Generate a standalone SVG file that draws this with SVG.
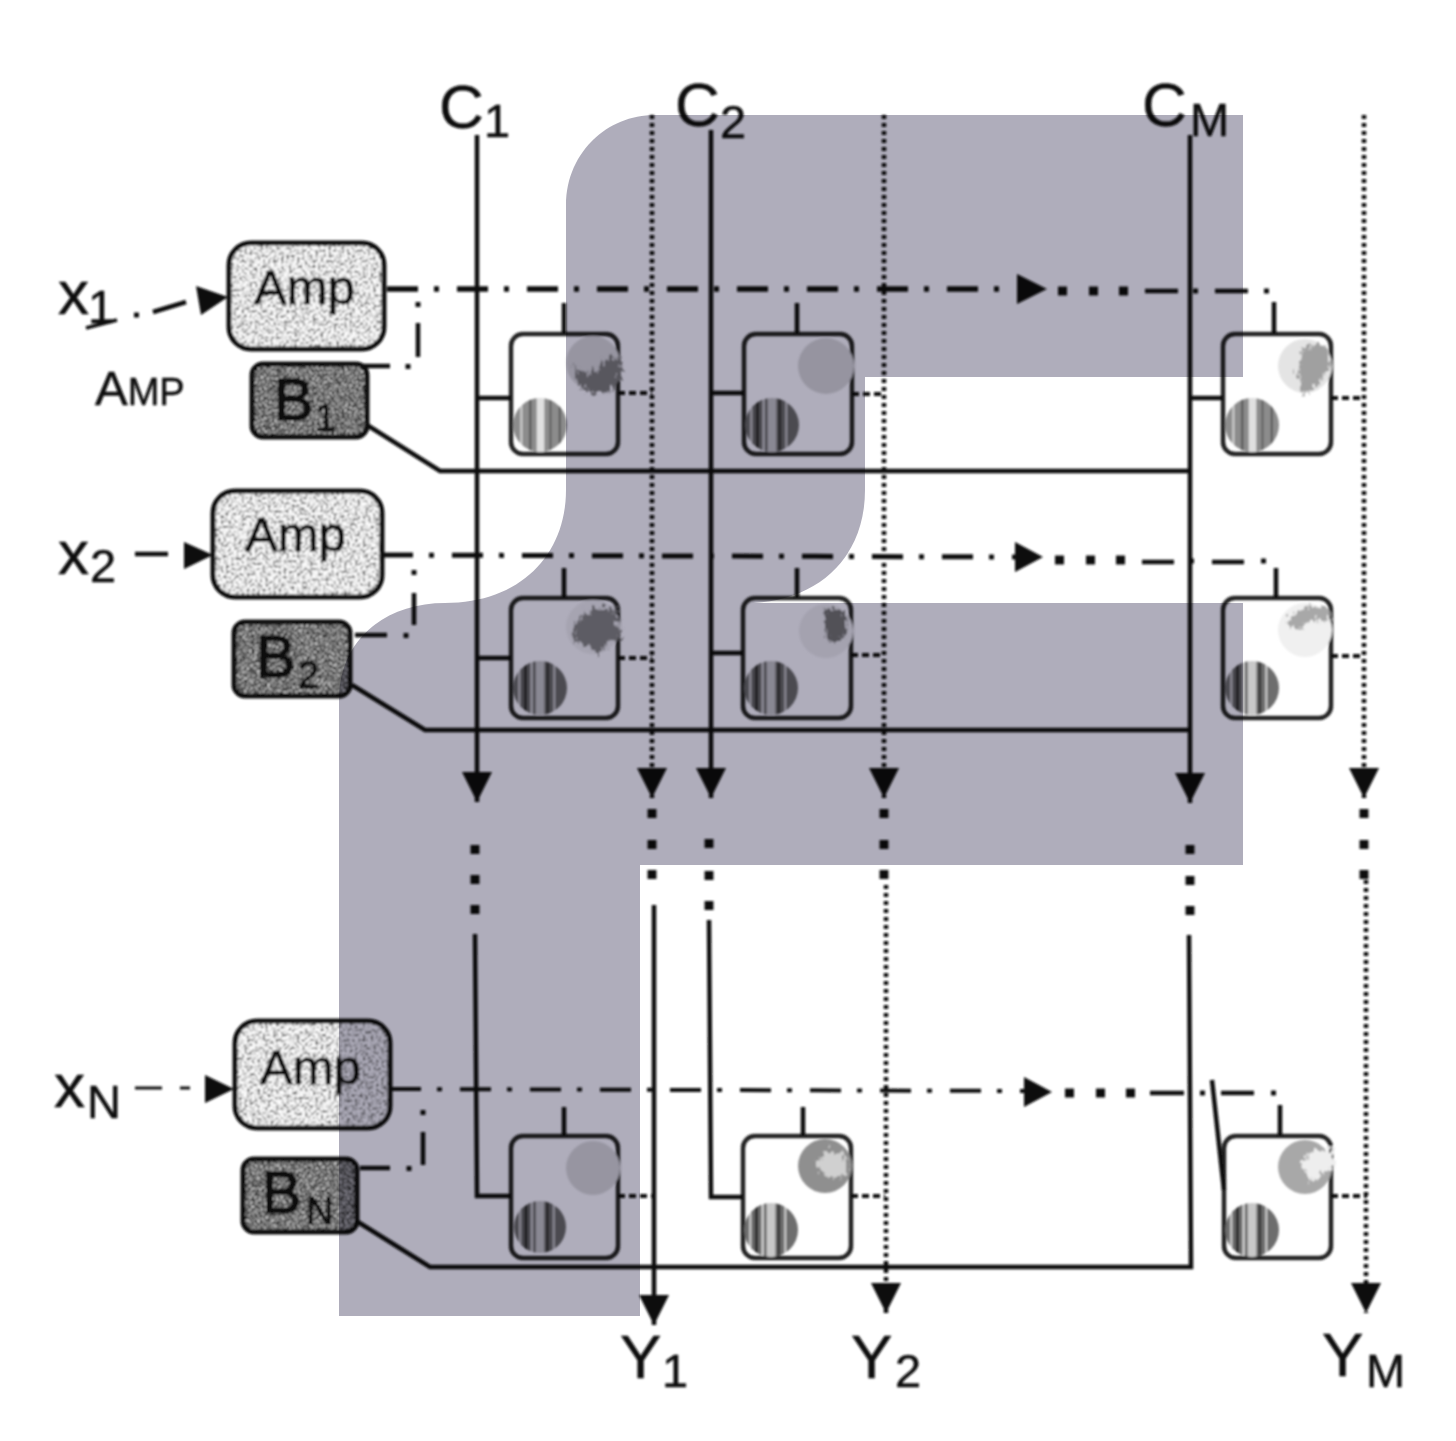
<svg xmlns="http://www.w3.org/2000/svg" width="1456" height="1441" viewBox="0 0 1456 1441">
<style>
text{font-family:"Liberation Sans",Arial,sans-serif;fill:#111;stroke:#111;stroke-width:.5}
.l{font-size:62px}.s{font-size:47px}.a{font-size:49px;stroke-width:.8}
.bt{font-size:59px;stroke-width:1.6;fill:#0c0c0c}.bs{font-size:38px;stroke-width:1}
.w{fill:none;stroke:#111;stroke-width:4.5}
.d{fill:none;stroke:#111;stroke-width:4.5;stroke-dasharray:4 4}
.dd{fill:none;stroke:#111;stroke-dasharray:31 16 5 18}
.q{fill:none;stroke:#111;stroke-width:4;stroke-dasharray:7 4}
.sq{fill:none;stroke:#111;stroke-width:9}
.n{fill:none;stroke:#111;stroke-width:5}
.c{fill:none;stroke:#222;stroke-width:4.5}
.af{fill:#fff;filter:url(#lt)}
.bf{fill:#fff;filter:url(#dk)}
.j{filter:url(#jag)}
</style>
<defs>
<marker id="ah" viewBox="0 0 30 30" refX="30" refY="15" markerWidth="30" markerHeight="30" markerUnits="userSpaceOnUse" orient="auto"><path d="M0 0L30 15L0 30Z" fill="#111"/></marker>
<pattern id="st" width="1" height="1" patternUnits="objectBoundingBox" patternContentUnits="objectBoundingBox"><rect width="1" height="1" fill="#6d6d6d"/><rect x=".1" width=".03" height="1" fill="#ddd"/><rect x=".2" width=".06" height="1" fill="#2b2b2b"/><rect x=".33" width=".03" height="1" fill="#eee"/><rect x=".42" width=".16" height="1" fill="#c8c8c8"/><rect x=".62" width=".05" height="1" fill="#333"/><rect x=".75" width=".03" height="1" fill="#ddd"/></pattern>
<pattern id="st2" width="1" height="1" patternUnits="objectBoundingBox" patternContentUnits="objectBoundingBox"><rect width="1" height="1" fill="#8c8c8c"/><rect x=".14" width=".03" height="1" fill="#ddd"/><rect x=".3" width=".04" height="1" fill="#555"/><rect x=".44" width=".14" height="1" fill="#e0e0e0"/><rect x=".68" width=".03" height="1" fill="#555"/><rect x=".85" width=".03" height="1" fill="#444"/></pattern>
<filter id="lt" x="0" y="0" width="1" height="1" color-interpolation-filters="sRGB"><feTurbulence type="fractalNoise" baseFrequency=".38" numOctaves="2" seed="4"/><feColorMatrix values="2.4 0 0 0 -.3  2.4 0 0 0 -.3  2.4 0 0 0 -.3  0 0 0 0 1"/><feComposite in2="SourceAlpha" operator="in"/></filter>
<filter id="dk" x="0" y="0" width="1" height="1" color-interpolation-filters="sRGB"><feTurbulence type="fractalNoise" baseFrequency=".6" numOctaves="2" seed="9"/><feColorMatrix values="2.4 0 0 0 -.83  2.4 0 0 0 -.83  2.4 0 0 0 -.83  0 0 0 0 1"/><feComposite in2="SourceAlpha" operator="in"/></filter>
<filter id="jag" x="-20%" y="-20%" width="140%" height="140%"><feTurbulence type="turbulence" baseFrequency=".22 .1" numOctaves="2" seed="3"/><feDisplacementMap in="SourceGraphic" scale="13" xChannelSelector="R" yChannelSelector="G"/></filter>
<filter id="sf" x="-2%" y="-2%" width="104%" height="104%"><feGaussianBlur stdDeviation=".9"/></filter>
</defs>
<rect width="1456" height="1441" fill="#fff"/>
<g filter="url(#sf)">
<g id="nodes">
<g id="amp1"><rect class="af" x="229" y="243" width="155" height="106" rx="22"/><rect class="n" x="229" y="243" width="155" height="106" rx="22"/><text class="a" x="254" y="304">Amp</text></g>
<g id="amp2"><rect class="af" x="213" y="491" width="169" height="106" rx="22"/><rect class="n" x="213" y="491" width="169" height="106" rx="22"/><text class="a" x="245" y="551">Amp</text></g>
<g id="ampN"><rect class="af" x="235" y="1021" width="155" height="107" rx="22"/><rect class="n" x="235" y="1021" width="155" height="107" rx="22"/><text class="a" x="260" y="1084">Amp</text></g>
<g id="b1"><rect class="bf" x="252" y="364" width="115" height="73" rx="11"/><rect class="n" x="252" y="364" width="115" height="73" rx="11"/><text class="bt" x="274" y="420">B</text><text class="bs" x="315" y="431">1</text></g>
<g id="b2"><rect class="bf" x="234" y="622" width="116" height="74" rx="11"/><rect class="n" x="234" y="622" width="116" height="74" rx="11"/><text class="bt" x="256" y="677">B</text><text class="bs" x="298" y="688">2</text></g>
<g id="bN"><rect class="bf" x="243" y="1159" width="114" height="73" rx="11"/><rect class="n" x="243" y="1159" width="114" height="73" rx="11"/><text class="bt" x="262" y="1213">B</text><text class="bs" x="306" y="1224">N</text></g>

<g id="cell-1-1"><rect class="c" x="511" y="334" width="107" height="120" rx="12"/><circle cx="593" cy="363" r="27" fill="#dcdcdc"/><path class="j" d="M572 364L586 372L600 360L616 352L620 372L606 388L588 390L574 382Z" fill="#808080"/><circle cx="540" cy="425" r="27" fill="url(#st2)"/></g>
<g id="cell-1-2"><rect class="c" x="744" y="334" width="108" height="120" rx="12"/><circle cx="826" cy="366" r="28" fill="#dadada"/><circle cx="772" cy="425" r="27" fill="url(#st)"/></g>
<g id="cell-1-M"><rect class="c" x="1223" y="334" width="108" height="120" rx="12"/><circle cx="1305" cy="366" r="27" fill="#e4e4e4"/><path class="j" d="M1298 344L1322 340L1328 360L1316 380L1300 392L1294 370Z" fill="#a0a0a0"/><circle cx="1252" cy="425" r="27" fill="url(#st2)"/></g>
<g id="cell-2-1"><rect class="c" x="511" y="598" width="107" height="120" rx="12"/><circle cx="593" cy="627" r="27" fill="#f2f2f2"/><path class="j" d="M570 622L590 604L614 606L618 636L606 636L596 652L584 642L572 638Z" fill="#888"/><circle cx="540" cy="688" r="27" fill="url(#st)"/></g>
<g id="cell-2-2"><rect class="c" x="743" y="598" width="108" height="120" rx="12"/><circle cx="826" cy="631" r="27" fill="#efefef"/><path class="j" d="M820 606L840 606L844 630L832 640L822 634Z" fill="#777"/><circle cx="771" cy="688" r="27" fill="url(#st)"/></g>
<g id="cell-2-M"><rect class="c" x="1223" y="598" width="108" height="120" rx="12"/><circle cx="1305" cy="630" r="27" fill="#f0f0f0"/><path class="j" d="M1282 620L1298 604L1322 602L1328 616L1306 618L1294 626Z" fill="#a8a8a8"/><circle cx="1252" cy="688" r="27" fill="url(#st)"/></g>
<g id="cell-N-1"><rect class="c" x="511" y="1136" width="107" height="122" rx="12"/><circle cx="593" cy="1168" r="27" fill="#dcdcdc"/><circle cx="540" cy="1227" r="26" fill="url(#st)"/></g>
<g id="cell-N-2"><rect class="c" x="743" y="1136" width="108" height="122" rx="12"/><circle cx="825" cy="1166" r="27" fill="#8f8f8f"/><path class="j" d="M812 1158L824 1148L842 1150L844 1170L830 1174L818 1170Z" fill="#d0d0d0"/><circle cx="771" cy="1230" r="27" fill="url(#st)"/></g>
<g id="cell-N-M"><rect class="c" x="1224" y="1136" width="107" height="122" rx="12"/><circle cx="1305" cy="1167" r="27" fill="#a8a8a8"/><path class="j" d="M1296 1160L1312 1146L1330 1146L1330 1166L1318 1170L1308 1180Z" fill="#eee"/><circle cx="1252" cy="1230" r="27" fill="url(#st)"/></g>
</g>

<g id="connectors">
<path class="w" d="M477 135V802" marker-end="url(#ah)"/>
<path class="w" d="M711 130V798" marker-end="url(#ah)"/>
<path class="w" d="M1190 135V803" marker-end="url(#ah)"/>
<path class="sq" d="M475 845v9M475 875v9M475 905v9M709 839v9M709 871v9M709 901v9M1190 845v9M1190 876v9M1190 906v9"/>
<path class="w" d="M475 934L477 1196H511"/>
<path class="w" d="M709 920L711 1197H743"/>
<path class="w" d="M1189 935L1191 1267H430L358 1222"/>
<path class="w" d="M1212 1080L1224 1190"/>
<path class="d" d="M652 115V798" marker-end="url(#ah)"/>
<path class="d" d="M884 115V798" marker-end="url(#ah)"/>
<path class="d" d="M1364 115V798" marker-end="url(#ah)"/>
<path class="sq" d="M652 809v9M652 840v9M652 870v9M884 809v9M884 840v9M884 870v9M1364 809v9M1364 840v9M1364 870v9"/>
<path class="w" d="M654 905V1325" marker-end="url(#ah)"/>
<path class="d" d="M886 885V1313" marker-end="url(#ah)"/>
<path class="d" d="M1366 880V1313" marker-end="url(#ah)"/>
<path class="w" d="M367 425L440 471H1190"/>
<path class="w" d="M352 685L425 730H1190"/>
<path class="dd" d="M387 289H1018" style="stroke-width:5.5"/><path d="M1017 274L1047 289L1017 304Z" fill="#111"/>
<path class="sq" d="M1058 291h9M1089 291h9M1119 291h9"/><path class="w" d="M1145 291H1178M1215 291H1248"/><path class="sq" style="stroke-width:5" d="M1193 291h5M1264 291h5"/>
<path class="dd" d="M382 555L1015 557" style="stroke-width:5"/><path d="M1015 542L1043 557L1015 572Z" fill="#111"/>
<path class="sq" d="M1055 560h9M1086 560h9M1116 560h9"/><path class="w" d="M1142 562H1174M1212 562H1244"/><path class="sq" style="stroke-width:5" d="M1189 561h5M1261 561h5"/>
<path class="dd" d="M390 1089L1024 1091" style="stroke-width:4"/><path d="M1024 1077L1052 1092L1024 1107Z" fill="#111"/>
<path class="sq" d="M1065 1093h9M1096 1093h9M1126 1093h9"/><path class="w" d="M1150 1093H1184M1221 1093H1254"/><path class="sq" style="stroke-width:5" d="M1200 1093h5M1271 1093h5"/>
<path class="sq" style="stroke-width:5" d="M418 302v5M408 364v5M414 570v5M406 633v5M423 1110v5M409 1166v5"/>
<path class="w" d="M418 323V357M363 366H390M414 593V625M355 635H387M423 1132V1165M360 1168H390"/>
<path class="w" d="M564 303V334M797 303V334M1274 302V334M564 568V598M797 568V598M1276 568V598M564 1107V1136M803 1107V1136M1280 1105V1136"/>
<path class="w" d="M477 398H511M711 393H744M1192 398H1223M477 658H511M711 653H743"/>
<path class="q" d="M618 393H652M852 394H884M1331 398H1364M618 658H652M851 655H884M1331 656H1364M618 1196H652M851 1196H885M1331 1196H1367"/>
<path class="sq" style="stroke-width:5" d="M134 315h5"/>
<path class="w" d="M153 312L186 302"/><path d="M196 286L228 297L201 315Z" fill="#111"/>
<path class="w" d="M135 554H168"/><path d="M184 542L213 555L184 569Z" fill="#111"/>
<path class="w" d="M135 1088H162M180 1088H190" style="stroke-width:3"/><path d="M205 1075L234 1089L205 1103Z" fill="#111"/>
<path class="w" d="M86 328L117 320" style="stroke-width:3.5"/>
</g>

<g id="labels">
<text class="l" x="439" y="128">C</text><text class="s" x="484" y="137">1</text>
<text class="l" x="675" y="126">C</text><text class="s" x="720" y="138">2</text>
<text class="l" x="1142" y="126">C</text><text class="s" x="1190" y="136">M</text>
<text class="l" x="58" y="314">x</text><text class="s" x="88" y="323">1</text>
<text class="l" x="58" y="574">x</text><text class="s" x="90" y="582">2</text>
<text class="l" x="54" y="1107">x</text><text class="s" x="87" y="1118">N</text>
<text x="95" y="405" style="font-size:49px">A<tspan style="font-size:38px">MP</tspan></text>
<text class="l" x="620" y="1378">Y</text><text class="s" x="662" y="1387">1</text>
<text class="l" x="851" y="1378">Y</text><text class="s" x="895" y="1387">2</text>
<text class="l" x="1322" y="1376">Y</text><text class="s" x="1366" y="1387">M</text>
</g>
</g>
<path id="overlay" style="mix-blend-mode:multiply" fill="#afadbb" d="M655 115H1243V377H865V490C865 560 815 603 745 603H1243V865H640V1316H339V700C339 640 385 603 445 603C520 603 566 555 566 490V205C566 155 605 115 655 115Z"/>
</svg>
